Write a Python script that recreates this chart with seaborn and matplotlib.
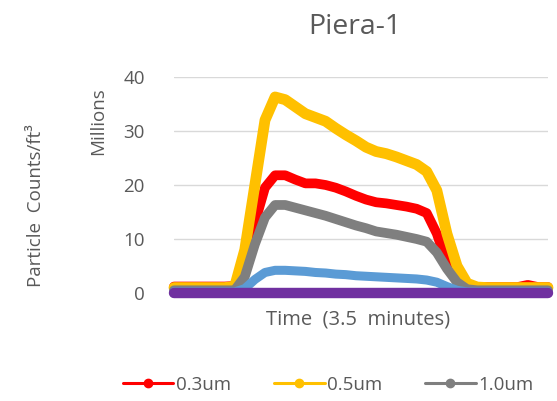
import matplotlib
matplotlib.use("Agg")
import matplotlib.pyplot as plt
from matplotlib.lines import Line2D
import seaborn as sns
import pandas as pd
import numpy as np

# ---- data (millions of particles / ft^3), 38 equally spaced samples ----
time_idx = list(range(38))
s_03 = [1.2, 1.2, 1.2, 1.2, 1.2, 1.2, 1.3, 5.0, 13.0, 19.5, 21.8, 21.8, 21.0, 20.3, 20.3, 20.0, 19.5, 18.8, 18.0,
        17.3, 16.8, 16.6, 16.3, 16.0, 15.6, 14.8, 11.0, 5.5, 2.5, 1.2, 1.1, 1.1, 1.1, 1.1, 1.1, 1.5, 1.1, 1.1]
s_05 = [1.0, 1.0, 1.0, 1.0, 1.0, 1.0, 1.2, 8.0, 20.0, 32.0, 36.3, 35.8, 34.5, 33.2, 32.5, 31.8, 30.5, 29.3, 28.2,
        27.0, 26.2, 25.8, 25.2, 24.5, 23.8, 22.5, 19.0, 11.0, 5.0, 1.8, 1.1, 1.0, 1.0, 1.0, 1.0, 1.0, 1.0, 1.0]
s_10 = [0.5, 0.5, 0.5, 0.5, 0.5, 0.5, 0.5, 3.0, 9.0, 14.0, 16.3, 16.3, 15.8, 15.3, 14.8, 14.3, 13.7, 13.1, 12.5,
        12.0, 11.4, 11.1, 10.8, 10.4, 10.0, 9.5, 7.5, 4.5, 2.0, 0.7, 0.5, 0.5, 0.5, 0.5, 0.5, 0.5, 0.5, 0.5]
s_25 = [0.2, 0.2, 0.2, 0.2, 0.2, 0.2, 0.2, 0.8, 2.5, 3.8, 4.2, 4.2, 4.1, 4.0, 3.8, 3.7, 3.5, 3.4, 3.2,
        3.1, 3.0, 2.9, 2.8, 2.7, 2.6, 2.4, 2.0, 1.2, 0.5, 0.2, 0.2, 0.2, 0.2, 0.2, 0.2, 0.2, 0.2, 0.2]
s_50 = [0.1, 0.1, 0.1, 0.1, 0.1, 0.1, 0.1, 0.2, 0.4, 0.5, 0.5, 0.5, 0.5, 0.5, 0.5, 0.5, 0.5, 0.5, 0.5,
        0.5, 0.5, 0.5, 0.5, 0.5, 0.5, 0.5, 0.4, 0.2, 0.1, 0.1, 0.1, 0.1, 0.1, 0.1, 0.1, 0.1, 0.1, 0.1]
s_100 = [0.0] * 38
series_names = ["0.3um", "0.5um", "1.0um", "2.5um", "5.0um", "10.0um"]
series_colors = ["#FF0000", "#FFC000", "#7F7F7F", "#5B9BD5", "#70AD47", "#7030A0"]
legend_names = ["0.3um", "0.5um", "1.0um"]
y_ticks = [0, 10, 20, 30, 40]

sns.set_style("white")
plt.rcParams["font.family"] = ["Open Sans", "DejaVu Sans"]

df = pd.DataFrame({
    "t": time_idx * 6,
    "v": s_03 + s_05 + s_10 + s_25 + s_50 + s_100,
    "s": sum([[n] * 38 for n in series_names], []),
})

W, H = 557, 401
fig = plt.figure(figsize=(5.57, 4.01), dpi=100)
ax = fig.add_axes([174 / W, 1 - 293 / H, (548 - 174) / W, (293 - 77) / H])
widths = {"0.3um": 7.0, "0.5um": 7.8, "1.0um": 7.0, "2.5um": 6.5, "5.0um": 2.0, "10.0um": 7.5}
for name, col in zip(series_names, series_colors):
    sub = df[df["s"] == name]
    sns.lineplot(data=sub, x="t", y="v", color=col, linewidth=widths[name], ax=ax,
                 solid_capstyle="round", solid_joinstyle="round", legend=False)
for l in ax.get_lines():
    l.set_clip_on(False)

ax.set_xlim(0, 37)
ax.set_ylim(0, 40)
ax.set_yticks(y_ticks)
ax.set_xticks([])
ax.grid(axis="y", color="#D9D9D9", linewidth=1.0)
ax.set_axisbelow(True)
for sp in ax.spines.values():
    sp.set_visible(False)
ax.tick_params(axis="y", length=0, labelsize=13.5, labelcolor="#595959", pad=21)
ax.set_xlabel("")
ax.set_ylabel("")

txt = "#595959"
fig.text(358 / W, 1 - 319 / H, "Time  (3.5  minutes)", fontsize=14.5, color=txt, ha="center", va="center")
fig.text(98 / W, 1 - 121 / H, "Millions", rotation=90, fontsize=13.5, color=txt, ha="center", va="center")
fig.text(36 / W, 1 - 206 / H, "Particle  Counts/ft³", rotation=90, fontsize=13.5, color=txt,
         ha="center", va="center")
fig.text(355 / W, 1 - 27 / H, "Piera-1", fontsize=20.5, color=txt, ha="center", va="center")

handles = [Line2D([0], [0], color=c, lw=2.2, marker="o", markersize=6) for c in series_colors[:3]]
fig.legend(handles, legend_names, loc="center", bbox_to_anchor=(328 / W, 1 - 385 / H), ncol=3, frameon=False,
           handlelength=2.7, handletextpad=0.12, columnspacing=2.3, fontsize=13.5, labelcolor=txt,
           borderpad=0, borderaxespad=0)

fig.savefig("out.png", dpi=100)
